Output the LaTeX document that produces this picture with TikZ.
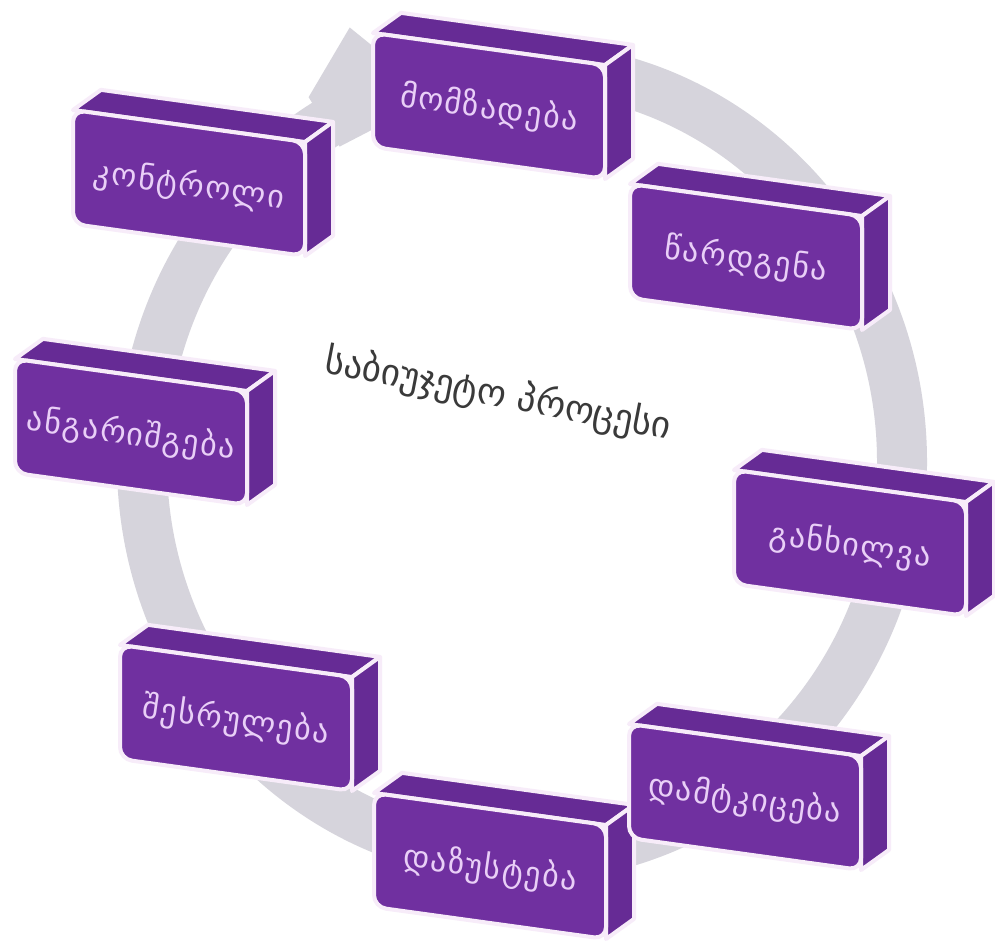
\documentclass[tikz,border=0pt]{standalone}
\usepackage{fontspec}
\newfontfamily\geofont{DejaVu Sans}
\definecolor{boxpurple}{HTML}{7030A0}
\definecolor{boxdark}{HTML}{662B95}
\definecolor{rim}{HTML}{F7ECF9}
\definecolor{labeltext}{HTML}{E9CFF7}
\definecolor{ringgray}{HTML}{D6D4DC}
\definecolor{centertext}{HTML}{3A3A3A}

\tikzset{
  frontface/.style={fill=boxpurple, draw=rim, line width=4pt, rounded corners=12pt},
  depthface/.style={fill=boxdark, draw=rim, line width=4pt, line join=round},
  boxlabel/.style={text=labeltext, font=\geofont\fontsize{32}{32}\selectfont\addfontfeature{LetterSpace=5}, rotate=-8, inner sep=0pt},
  ring/.style={draw=ringgray, line width=50pt},
  ringhead/.style={fill=ringgray},
}

% one extruded stage box: node name, centre x, centre y, label
\newcommand\stagebox[4]{%
  \begin{scope}[shift={(#2,#3)}, yslant=-0.138]
    \draw[depthface] (-116,-57) -- (116,-57) -- (144,-81) -- (-88,-81) -- cycle;
    \draw[depthface] (116,-57) -- (144,-81) -- (144,33) -- (116,57) -- cycle;
    \draw[frontface] (-116,-57) rectangle (116,57);
    \node[boxlabel] (#1) at (0,3) {#4};
  \end{scope}}

\begin{document}
\begin{tikzpicture}[x=1pt, y=-1pt]
  \useasboundingbox (0,0) rectangle (995,943);
  \fill[white] (0,0) rectangle (995,943);

  % circular arrow running clockwise behind the boxes
  \coordinate (hub) at (522,462);
  \begin{scope}[shift={(hub)}, xscale=0.962]
    \draw[ring] (275:395) arc[start angle=275, end angle=600, radius=395];
    \fill[ringhead] (238.7:427) -- (247.6:470) -- (254:395) -- (248:368) -- (239:368) -- cycle;
  \end{scope}

  \stagebox{s1}{489}{106}{მომზადება}
  \stagebox{s2}{746}{257}{წარდგენა}
  \stagebox{s3}{850}{543}{განხილვა}
  \stagebox{s5}{490}{866}{დაზუსტება}
  \stagebox{s4}{745}{797}{დამტკიცება}
  \stagebox{s6}{236}{718}{შესრულება}
  \stagebox{s7}{131}{432}{ანგარიშგება}
  \stagebox{s8}{189}{183}{კონტროლი}

  \node[rotate=-11, text=centertext, font=\geofont\fontsize{37}{37}\selectfont] (title) at (498,395) {საბიუჯეტო პროცესი};
\end{tikzpicture}
\end{document}
